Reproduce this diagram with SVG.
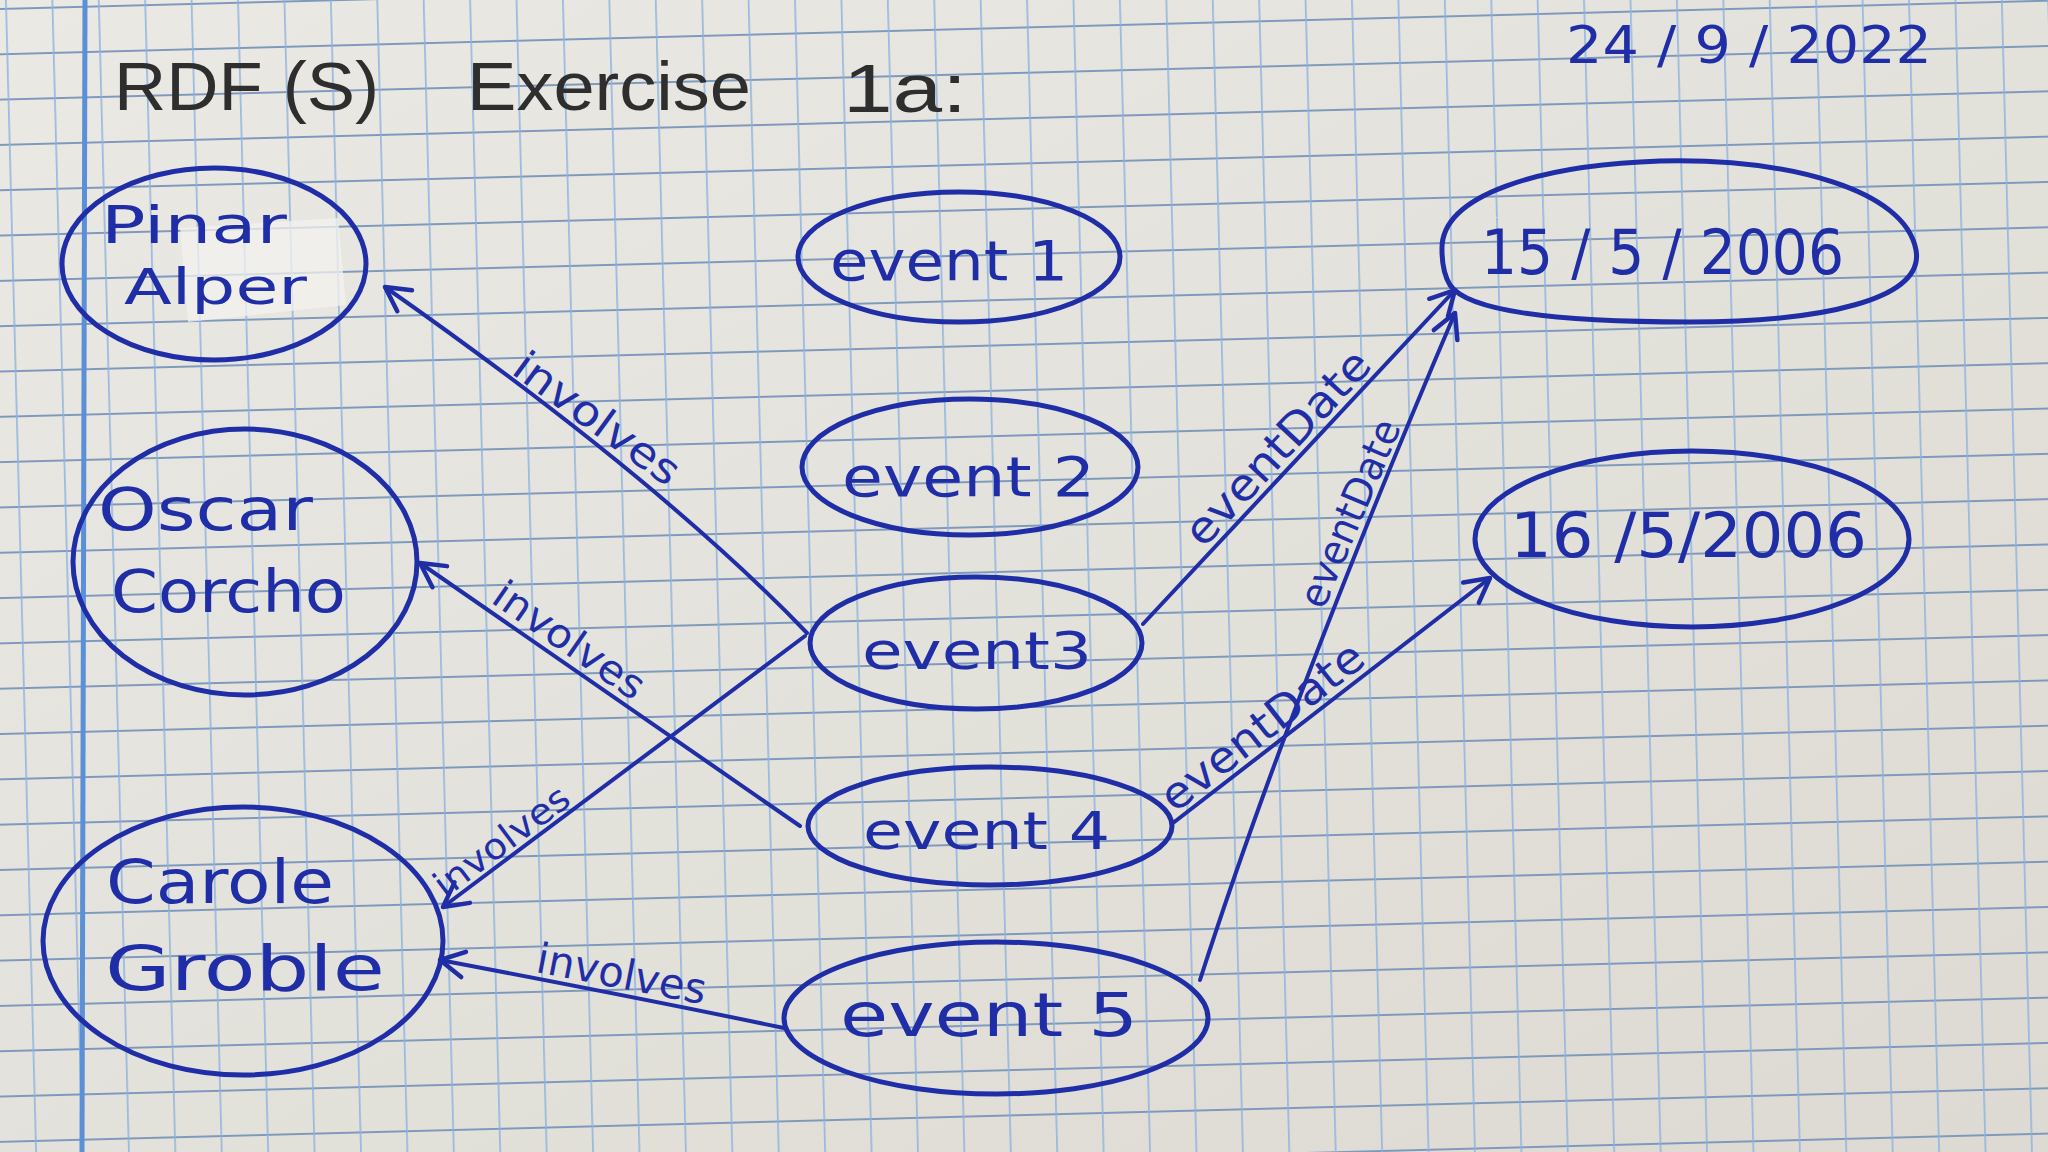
<svg xmlns="http://www.w3.org/2000/svg" width="2048" height="1152" viewBox="0 0 2048 1152">
<defs>
  <linearGradient id="paper" x1="0" y1="0" x2="1" y2="1">
    <stop offset="0" stop-color="#eae9e4"/>
    <stop offset="1" stop-color="#dcdad2"/>
  </linearGradient>
  <pattern id="grid" width="46.4" height="45.3" patternUnits="userSpaceOnUse" patternTransform="rotate(-1.5) translate(5 8)">
    <path d="M0 0.9 H46.4" stroke="#7f99bd" stroke-width="2"/>
    <path d="M0.9 0 V45.3" stroke="#8db3e0" stroke-width="1.5"/>
  </pattern>
  <marker id="arrow" viewBox="0 0 20 20" refX="18" refY="10" markerWidth="32" markerHeight="32" markerUnits="userSpaceOnUse" orient="auto">
    <path d="M3,2 L18,10 L3,18" fill="none" stroke="#1f2ea6" stroke-width="2.8" stroke-linecap="round" stroke-linejoin="round"/>
  </marker>
  <style>
    .ink{fill:none;stroke:#1f2ea6;stroke-width:5;stroke-linecap:round;stroke-linejoin:round}
    .edge{fill:none;stroke:#1f2ea6;stroke-width:4;stroke-linecap:round;marker-end:url(#arrow)}
    .lbl{font-family:"DejaVu Sans","Liberation Sans",sans-serif;fill:#1f2ea6}
    .elbl{font-family:"DejaVu Sans","Liberation Sans",sans-serif;fill:#1f2ea6;text-anchor:middle}
    .title{font-family:"Liberation Sans","DejaVu Sans",sans-serif;fill:#2e2e2e}
  </style>
</defs>

<g id="paper-bg">
  <rect width="2048" height="1152" fill="url(#paper)"/>
  <rect width="2048" height="1152" fill="url(#grid)"/>
  <line x1="85" y1="0" x2="82" y2="1152" stroke="#5b8fd6" stroke-width="5"/>
</g>

<g id="title">
  <text class="title" x="114" y="110" font-size="68" textLength="265" lengthAdjust="spacingAndGlyphs">RDF (S)</text>
  <text class="title" x="467" y="110" font-size="68" textLength="284" lengthAdjust="spacingAndGlyphs">Exercise</text>
  <text class="title" x="843" y="112" font-size="68" textLength="124" lengthAdjust="spacingAndGlyphs">1a:</text>
</g>
<g id="date">
  <text class="lbl" x="1566" y="63" font-size="52" textLength="366" lengthAdjust="spacingAndGlyphs">24 / 9 / 2022</text>
</g>

<g id="connectors">
  <path id="e1" class="edge" d="M807,633 Q660,480 385,287"/>
  <path id="e2" class="edge" d="M800,826 L420,563"/>
  <path id="e3" class="edge" d="M805,636 L443,907"/>
  <path id="e4" class="edge" d="M784,1028 Q650,1000 440,960"/>
  <path id="e5" class="edge" d="M1143,624 L1455,290"/>
  <path id="e6" class="edge" d="M1200,980 Q1290,700 1455,313"/>
  <path id="e7" class="edge" d="M1173,823 L1490,578"/>
  <text class="elbl" font-size="42" textLength="195" lengthAdjust="spacingAndGlyphs" transform="translate(585,435) rotate(36)" y="-6">involves</text>
  <text class="elbl" font-size="40" textLength="175" lengthAdjust="spacingAndGlyphs" transform="translate(557,658) rotate(34.7)" y="-8">involves</text>
  <text class="elbl" font-size="36" textLength="160" lengthAdjust="spacingAndGlyphs" transform="translate(512,855) rotate(-36.8)" y="-5">involves</text>
  <text class="elbl" font-size="42" textLength="172" lengthAdjust="spacingAndGlyphs" transform="translate(618,993) rotate(11)" y="-5">involves</text>
  <text class="elbl" font-size="44" textLength="250" lengthAdjust="spacingAndGlyphs" transform="translate(1293,462) rotate(-47)" y="-6">eventDate</text>
  <text class="elbl" font-size="40" textLength="200" lengthAdjust="spacingAndGlyphs" transform="translate(1368,521) rotate(-67)" y="-6">eventDate</text>
  <text class="elbl" font-size="44" textLength="245" lengthAdjust="spacingAndGlyphs" transform="translate(1275,743) rotate(-38)" y="-6">eventDate</text>
</g>

<g id="node-pinar">
  <polygon points="180,228 338,218 346,305 188,322" fill="#f3f2ee" opacity="0.75"/>
  <ellipse class="ink" cx="214" cy="264" rx="152" ry="96"/>
  <text class="lbl" x="101" y="243" font-size="52" textLength="186" lengthAdjust="spacingAndGlyphs">Pinar</text>
  <text class="lbl" x="124" y="304" font-size="50" textLength="183" lengthAdjust="spacingAndGlyphs">Alper</text>
</g>
<g id="node-oscar">
  <ellipse class="ink" cx="245" cy="562" rx="172" ry="133"/>
  <text class="lbl" x="98" y="530" font-size="58" textLength="215" lengthAdjust="spacingAndGlyphs">Oscar</text>
  <text class="lbl" x="111" y="612" font-size="58" textLength="235" lengthAdjust="spacingAndGlyphs">Corcho</text>
</g>
<g id="node-carole">
  <ellipse class="ink" cx="243" cy="941" rx="200" ry="134"/>
  <text class="lbl" x="106" y="903" font-size="60" textLength="228" lengthAdjust="spacingAndGlyphs">Carole</text>
  <text class="lbl" x="105" y="990" font-size="62" textLength="280" lengthAdjust="spacingAndGlyphs">Groble</text>
</g>
<g id="node-event1">
  <ellipse class="ink" cx="959" cy="257" rx="161" ry="65"/>
  <text class="lbl" x="830" y="280" font-size="56" textLength="238" lengthAdjust="spacingAndGlyphs">event 1</text>
</g>
<g id="node-event2">
  <ellipse class="ink" cx="970" cy="467" rx="168" ry="68"/>
  <text class="lbl" x="842" y="496" font-size="56" textLength="253" lengthAdjust="spacingAndGlyphs">event 2</text>
</g>
<g id="node-event3">
  <ellipse class="ink" cx="976" cy="643" rx="166" ry="66"/>
  <text class="lbl" x="862" y="669" font-size="52" textLength="230" lengthAdjust="spacingAndGlyphs">event3</text>
</g>
<g id="node-event4">
  <ellipse class="ink" cx="990" cy="826" rx="182" ry="59"/>
  <text class="lbl" x="863" y="849" font-size="52" textLength="247" lengthAdjust="spacingAndGlyphs">event 4</text>
</g>
<g id="node-event5">
  <ellipse class="ink" cx="996" cy="1018" rx="212" ry="76"/>
  <text class="lbl" x="840" y="1036" font-size="60" textLength="298" lengthAdjust="spacingAndGlyphs">event 5</text>
</g>
<g id="node-date15">
  <path class="ink" d="M1442,250 C1440,195 1540,165 1660,161 C1790,158 1905,190 1916,250 C1925,300 1820,322 1690,322 C1580,322 1470,315 1450,285 C1444,275 1442,262 1442,250 Z"/>
  <text class="lbl" x="1481" y="274" font-size="62" textLength="363" lengthAdjust="spacingAndGlyphs">15 / 5 / 2006</text>
</g>
<g id="node-date16">
  <ellipse class="ink" cx="1692" cy="539" rx="217" ry="88"/>
  <text class="lbl" x="1510" y="557" font-size="62" textLength="357" lengthAdjust="spacingAndGlyphs">16 /5/2006</text>
</g>
</svg>
